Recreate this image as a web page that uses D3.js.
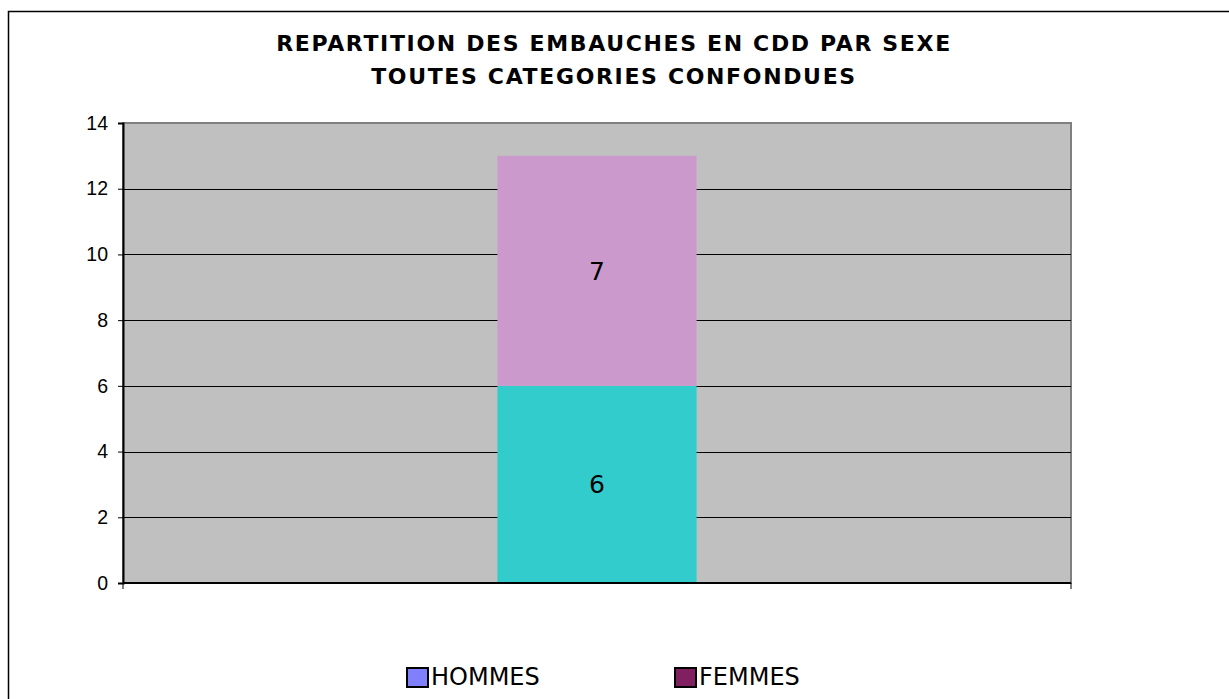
<!DOCTYPE html>
<html>
<head>
<meta charset="utf-8">
<script src="https://cdn.jsdelivr.net/npm/d3@7"></script>
<style>
  body { margin: 0; background: #fff; }
  svg { display: block; }
</style>
</head>
<body>
<div id="chart"></div>
<script>
// data
var categories = ["Total"]
var seriesNames = ["HOMMES", "FEMMES"]
var hommes = [6]
var femmes = [7]
var yTicks = [0, 2, 4, 6, 8, 10, 12, 14]
var titleLines = ["REPARTITION DES EMBAUCHES EN CDD PAR SEXE", "TOUTES CATEGORIES CONFONDUES"]

// bar colours and legend colours differ in the original
var barColors = ["#33CCCC", "#CC99CC"]
var legendColors = ["#8080FF", "#802060"]

var W = 1229, H = 699
var plot = {left: 123, right: 1071, top: 123, bottom: 583}

var svg = d3.select("#chart").append("svg")
    .attr("width", W)
    .attr("height", H)

// outer frame (runs off the right and bottom edges)
svg.append("rect")
    .attr("x", 8.5).attr("y", 11.5)
    .attr("width", W + 20).attr("height", H + 20)
    .attr("fill", "#fff")
    .attr("stroke", "#000")
    .attr("stroke-width", 1.5)

var x = d3.scaleBand()
    .domain(categories)
    .range([plot.left, plot.right])
    .paddingInner(0)
    .paddingOuter(1.88)

var y = d3.scaleLinear()
    .domain([0, 14])
    .range([plot.bottom, plot.top])

// plot background
svg.append("rect")
    .attr("x", plot.left).attr("y", plot.top)
    .attr("width", plot.right - plot.left)
    .attr("height", plot.bottom - plot.top)
    .attr("fill", "#C0C0C0")
    .attr("stroke", "#808080")
    .attr("stroke-width", 2)

// gridlines
svg.append("g")
    .selectAll("line")
    .data(yTicks.filter(function(d) { return d > 0 && d < 14 }))
    .join("line")
    .attr("x1", plot.left).attr("x2", plot.right)
    .attr("y1", function(d) { return Math.round(y(d)) + 0.5 })
    .attr("y2", function(d) { return Math.round(y(d)) + 0.5 })
    .attr("stroke", "#000")
    .attr("stroke-width", 1)

// stacked bars
var rows = categories.map(function(c, i) {
  return {cat: c, HOMMES: hommes[i], FEMMES: femmes[i]}
})
var stack = d3.stack().keys(seriesNames)(rows)

var layers = svg.append("g")
    .selectAll("g")
    .data(stack)
    .join("g")
    .attr("fill", function(d, i) { return barColors[i] })

layers.selectAll("rect")
    .data(function(d) { return d })
    .join("rect")
    .attr("x", function(d) { return x(d.data.cat) })
    .attr("width", x.bandwidth())
    .attr("y", function(d) { return y(d[1]) })
    .attr("height", function(d) { return y(d[0]) - y(d[1]) })

// value labels
layers.selectAll("text")
    .data(function(d) { return d })
    .join("text")
    .attr("x", function(d) { return x(d.data.cat) + x.bandwidth() / 2 })
    .attr("y", function(d) { return (y(d[0]) + y(d[1])) / 2 + 9 })
    .attr("text-anchor", "middle")
    .attr("fill", "#000")
    .style("font-family", "'DejaVu Sans', Verdana, sans-serif")
    .style("font-size", "25px")
    .text(function(d) { return d[1] - d[0] })

// y axis
var yAxis = svg.append("g")
    .attr("transform", "translate(" + plot.left + ",0)")
    .call(d3.axisLeft(y).tickValues(yTicks).tickSize(5).tickPadding(10))
yAxis.select(".domain").attr("stroke", "#000").attr("stroke-width", 2)
yAxis.selectAll("text")
    .style("font-family", "'Liberation Sans', Arial, sans-serif")
    .style("font-size", "19.5px")
    .attr("fill", "#000")

// x axis line with end ticks
var xAxis = svg.append("g")
    .attr("transform", "translate(0," + plot.bottom + ")")
xAxis.append("line")
    .attr("x1", plot.left).attr("x2", plot.right)
    .attr("stroke", "#000").attr("stroke-width", 2)
xAxis.selectAll("line.tk")
    .data([plot.left, plot.right])
    .join("line")
    .attr("class", "tk")
    .attr("x1", function(d) { return d }).attr("x2", function(d) { return d })
    .attr("y1", 0).attr("y2", 6)
    .attr("stroke", "#000").attr("stroke-width", 1)

// title
svg.append("g")
    .selectAll("text")
    .data(titleLines)
    .join("text")
    .attr("x", 614)
    .attr("y", function(d, i) { return 51 + i * 33 })
    .attr("text-anchor", "middle")
    .style("font-family", "'DejaVu Sans', Verdana, sans-serif")
    .style("font-weight", "bold")
    .style("font-size", "22px")
    .style("letter-spacing", "1.65px")
    .text(function(d) { return d })

// legend
var legendX = [407, 675]
var legend = svg.append("g")
    .selectAll("g")
    .data(seriesNames)
    .join("g")
    .attr("transform", function(d, i) { return "translate(" + legendX[i] + ",668)" })
legend.append("rect")
    .attr("width", 21).attr("height", 19)
    .attr("fill", function(d, i) { return legendColors[i] })
    .attr("stroke", "#000").attr("stroke-width", 2)
legend.append("text")
    .attr("x", 24).attr("y", 17)
    .style("font-family", "'DejaVu Sans', Verdana, sans-serif")
    .style("font-size", "24px")
    .text(function(d) { return d })
</script>
</body>
</html>
